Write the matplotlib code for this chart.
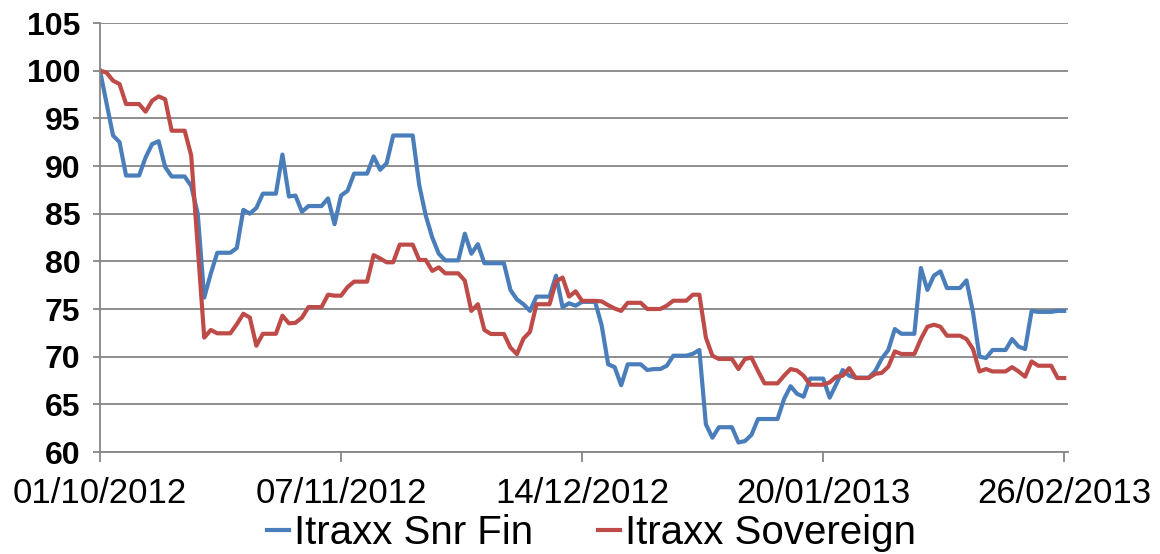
import matplotlib
matplotlib.use("Agg")
import matplotlib.pyplot as plt
import pandas as pd

start_date = "2012-10-01"

snr_fin = [
    100.0, 96.6, 93.2, 92.5, 89.0, 89.0, 89.0, 90.9, 92.3, 92.6,
    89.9, 88.9, 88.9, 88.9, 87.9, 85.0, 76.2, 78.7, 80.9, 80.9,
    80.9, 81.4, 85.4, 85.0, 85.6, 87.1, 87.1, 87.1, 91.2, 86.8,
    86.9, 85.2, 85.8, 85.8, 85.8, 86.6, 83.9, 86.9, 87.4, 89.2,
    89.2, 89.2, 91.0, 89.6, 90.3, 93.2, 93.2, 93.2, 93.2, 88.0,
    84.8, 82.5, 80.8, 80.1, 80.1, 80.1, 82.9, 80.8, 81.8, 79.8,
    79.8, 79.8, 79.8, 77.0, 76.0, 75.5, 74.8, 76.3, 76.3, 76.3,
    78.5, 75.2, 75.6, 75.35, 75.75, 75.75, 75.75, 73.3, 69.2, 68.9,
    67.0, 69.2, 69.2, 69.2, 68.6, 68.7, 68.7, 69.05, 70.1, 70.1,
    70.1, 70.3, 70.7, 62.9, 61.5, 62.6, 62.6, 62.6, 61.0, 61.15,
    61.8, 63.46, 63.46, 63.46, 63.46, 65.56, 66.9, 66.1, 65.8, 67.7,
    67.7, 67.7, 65.7, 67.1, 68.6, 68.0, 67.8, 67.8, 67.8, 68.5,
    69.8, 70.7, 72.9, 72.4, 72.4, 72.4, 79.3, 77.0, 78.5, 78.95,
    77.2, 77.2, 77.2, 78.0, 74.65, 70.0, 69.86, 70.7, 70.7, 70.7,
    71.85, 71.05, 70.8, 74.8, 74.7, 74.7, 74.7, 74.8, 74.8,
]

sovereign = [
    100.0, 99.8, 98.95, 98.6, 96.5, 96.5, 96.5, 95.7, 96.85, 97.3,
    97.0, 93.7, 93.7, 93.7, 91.1, 81.5, 72.0, 72.8, 72.45, 72.45,
    72.45, 73.4, 74.5, 74.1, 71.15, 72.4, 72.4, 72.4, 74.3, 73.5,
    73.55, 74.1, 75.2, 75.2, 75.2, 76.5, 76.4, 76.4, 77.3, 77.87,
    77.87, 77.87, 80.65, 80.3, 79.9, 79.9, 81.75, 81.75, 81.75, 80.14,
    80.14, 79.0, 79.37, 78.74, 78.74, 78.74, 77.97, 74.8, 75.5, 72.8,
    72.38, 72.38, 72.38, 70.95, 70.27, 71.9, 72.6, 75.5, 75.5, 75.5,
    77.9, 78.3, 76.3, 76.85, 75.85, 75.85, 75.85, 75.8, 75.4, 75.05,
    74.8, 75.65, 75.65, 75.65, 75.0, 75.0, 75.0, 75.35, 75.87, 75.87,
    75.87, 76.5, 76.5, 72.0, 70.1, 69.76, 69.76, 69.76, 68.7, 69.76,
    69.9, 68.5, 67.2, 67.2, 67.2, 68.0, 68.7, 68.55, 68.0, 67.06,
    67.06, 67.06, 67.3, 67.9, 68.0, 68.8, 67.76, 67.76, 67.76, 68.2,
    68.3, 68.95, 70.55, 70.28, 70.28, 70.28, 71.85, 73.14, 73.35, 73.14,
    72.2, 72.2, 72.2, 71.85, 70.8, 68.45, 68.7, 68.45, 68.45, 68.45,
    68.9, 68.45, 67.9, 69.5, 69.05, 69.05, 69.05, 67.76, 67.76,
]

series_names = ["Itraxx Snr Fin", "Itraxx Sovereign"]
x_tick_dates = ["2012-10-01", "2012-11-07", "2012-12-14", "2013-01-20", "2013-02-26"]
x_tick_labels = ["01/10/2012", "07/11/2012", "14/12/2012", "20/01/2013", "26/02/2013"]
y_ticks = [60, 65, 70, 75, 80, 85, 90, 95, 100, 105]

plt.rcParams["font.family"] = ["Liberation Sans", "DejaVu Sans"]

dates = pd.date_range(start_date, periods=len(snr_fin), freq="D")

fig = plt.figure(figsize=(11.6, 5.54), dpi=100)
ax = fig.add_axes([100 / 1160, 1 - 452 / 554, 968 / 1160, 429 / 554])

grid_c = "#868686"
ax.plot(dates, snr_fin, color="#4A7EBB", lw=3.0, label=series_names[0], solid_joinstyle="round")
ax.plot(dates, sovereign, color="#BE4B48", lw=3.0, label=series_names[1], solid_joinstyle="round")

ax.set_ylim(60, 105)
ax.set_yticks(y_ticks)
ax.set_yticklabels([str(v) for v in y_ticks], fontsize=23, fontweight="bold")
ax.yaxis.grid(True, color=grid_c, lw=1.3)
ax.set_axisbelow(True)

tick_dt = pd.to_datetime(x_tick_dates)
ax.set_xlim(dates[0], dates[-1] + pd.Timedelta(hours=14))
ax.set_xticks(tick_dt)
ax.set_xticklabels(x_tick_labels, fontsize=25)

for s in ["top", "right"]:
    ax.spines[s].set_visible(False)
ax.spines["left"].set_color(grid_c)
ax.spines["bottom"].set_color(grid_c)
ax.spines["left"].set_linewidth(1.3)
ax.spines["bottom"].set_linewidth(1.3)
ax.tick_params(axis="y", length=5, width=1.3, color=grid_c, pad=9)
ax.tick_params(axis="x", length=7, width=1.3, color=grid_c, pad=11)

fig.legend(loc="lower center", bbox_to_anchor=(0.51, -0.062), ncol=2, frameon=False,
           fontsize=29, handlelength=0.55, handletextpad=0.12, columnspacing=1.6)

fig.savefig("out.png", dpi=100)
